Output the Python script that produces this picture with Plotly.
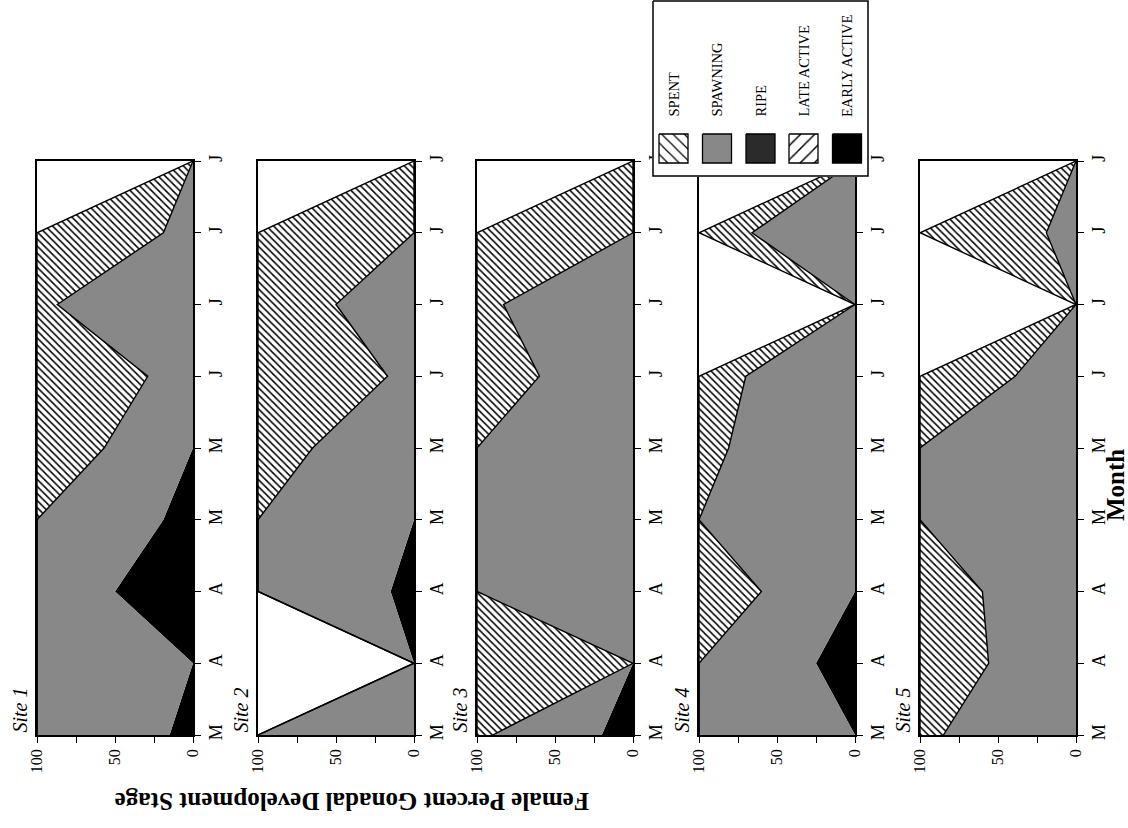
import plotly.graph_objects as go

# ---------------- data ----------------
months = ["M", "A", "A", "M", "M", "J", "J", "J", "J"]
month_idx = list(range(len(months)))
sites = ["Site 1", "Site 2", "Site 3", "Site 4", "Site 5"]
stages = ["SPENT", "SPAWNING", "RIPE", "LATE ACTIVE", "EARLY ACTIVE"]

site1_early = [15, 0, 50, 19, 0, 0, 0, 0, 0]
site1_late = [0, 0, 0, 0, 0, 0, 0, 0, 0]
site1_ripe = [0, 0, 0, 0, 0, 0, 0, 0, 0]
site1_spawning = [85, 100, 50, 81, 57, 29, 87, 19, 0]
site1_spent = [0, 0, 0, 0, 43, 71, 13, 81, 0]

site2_early = [0, 0, 15, 0, 0, 0, 0, 0, 0]
site2_late = [0, 0, 0, 0, 0, 0, 0, 0, 0]
site2_ripe = [0, 0, 0, 0, 0, 0, 0, 0, 0]
site2_spawning = [100, 0, 85, 100, 65, 17, 50, 0, 0]
site2_spent = [0, 0, 0, 0, 35, 83, 50, 100, 0]

site3_early = [20, 0, 0, 0, 0, 0, 0, 0, 0]
site3_late = [0, 0, 0, 0, 0, 0, 0, 0, 0]
site3_ripe = [0, 0, 0, 0, 0, 0, 0, 0, 0]
site3_spawning = [70, 0, 100, 100, 100, 60, 83, 0, 0]
site3_spent = [10, 100, 0, 0, 0, 40, 17, 100, 0]

site4_early = [0, 25, 0, 0, 0, 0, 0, 0, 0]
site4_late = [0, 0, 0, 0, 0, 0, 0, 0, 0]
site4_ripe = [0, 0, 0, 0, 0, 0, 0, 0, 0]
site4_spawning = [100, 75, 60, 100, 81, 70, 0, 66, 0]
site4_spent = [0, 0, 40, 0, 19, 30, 0, 34, 0]

site5_early = [0, 0, 0, 0, 0, 0, 0, 0, 0]
site5_late = [0, 0, 0, 0, 0, 0, 0, 0, 0]
site5_ripe = [0, 0, 0, 0, 0, 0, 0, 0, 0]
site5_spawning = [85, 56, 60, 100, 100, 39, 0, 19, 0]
site5_spent = [15, 44, 40, 0, 0, 61, 0, 81, 0]

site_data = [
    (site1_early, site1_late, site1_ripe, site1_spawning, site1_spent),
    (site2_early, site2_late, site2_ripe, site2_spawning, site2_spent),
    (site3_early, site3_late, site3_ripe, site3_spawning, site3_spent),
    (site4_early, site4_late, site4_ripe, site4_spawning, site4_spent),
    (site5_early, site5_late, site5_ripe, site5_spawning, site5_spent),
]

pct_tickvals = [0, 25, 50, 75, 100]
pct_ticktext = ["0", "", "50", "", "100"]

# ---------------- layout geometry (pixels) ----------------
W, H = 1128, 828
SERIF = "Liberation Serif, Times New Roman, serif"
panel_left = [37, 258, 477, 699, 920]
panel_w = 156
panel_top, panel_bottom = 161, 735


def px(xp):
    return xp / W


def py(yp):
    return 1 - yp / H


GRAY = "#888888"
RIPE_C = "#2b2b2b"
SPENT_PAT = dict(shape="\\", fgcolor="black", bgcolor="white", size=5, solidity=0.3)
LATE_PAT = dict(shape="/", fgcolor="black", bgcolor="white", size=7, solidity=0.25)

fig = go.Figure()
layout = dict(
    template="none",
    width=W, height=H,
    margin=dict(l=0, r=0, t=0, b=0, pad=0, autoexpand=False),
    paper_bgcolor="white", plot_bgcolor="white",
    showlegend=False,
    font=dict(family=SERIF, color="black", size=16),
    annotations=[],
)

for i, (early, late, ripe, spawn, spent) in enumerate(site_data):
    n = i + 1
    xa = "x" if n == 1 else f"x{n}"
    ya = "y" if n == 1 else f"y{n}"
    cum = [0] * len(months)
    fig.add_trace(go.Scatter(x=cum[:], y=month_idx, xaxis=xa, yaxis=ya, mode="lines",
                             line=dict(width=0), hoverinfo="skip"))
    layers = [
        (early, dict(fillcolor="black"), dict(width=0, color="black")),
        (late, dict(fillcolor="white", fillpattern=LATE_PAT), dict(width=0, color="black")),
        (ripe, dict(fillcolor=RIPE_C), dict(width=0, color=RIPE_C)),
        (spawn, dict(fillcolor=GRAY), dict(width=1.4, color="black")),
        (spent, dict(fillcolor="white", fillpattern=SPENT_PAT), dict(width=1.4, color="black")),
    ]
    for vals, fillkw, linekw in layers:
        cum = [c + v for c, v in zip(cum, vals)]
        fig.add_trace(go.Scatter(x=cum, y=month_idx, xaxis=xa, yaxis=ya, mode="lines",
                                 fill="tonextx", line=linekw, hoverinfo="skip", **fillkw))

    x0 = panel_left[i]
    layout["xaxis" if n == 1 else f"xaxis{n}"] = dict(
        domain=[px(x0), px(x0 + panel_w)], anchor=ya, range=[100, 0], automargin=False,
        tickvals=pct_tickvals, ticktext=pct_ticktext, tickangle=-90,
        ticks="outside", ticklen=6, tickwidth=1.2, tickcolor="black",
        showline=True, mirror=True, linecolor="black", linewidth=1.5,
        showgrid=False, zeroline=False, fixedrange=True,
        tickfont=dict(family=SERIF, size=16, color="black"),
    )
    layout["yaxis" if n == 1 else f"yaxis{n}"] = dict(
        domain=[py(panel_bottom), py(panel_top)], anchor=xa, side="right", automargin=False,
        range=[0, len(months) - 1], tickvals=month_idx, ticktext=months, tickangle=-90,
        ticks="outside", ticklen=6, tickwidth=1.2, tickcolor="black",
        showline=True, mirror=True, linecolor="black", linewidth=1.5,
        showgrid=False, zeroline=False, fixedrange=True,
        tickfont=dict(family=SERIF, size=18, color="black"),
    )
    layout["annotations"].append(dict(
        text=f"<i>{sites[i]}</i>", xref="paper", yref="paper",
        x=px(x0 - 18), y=py(panel_bottom), xanchor="center", yanchor="bottom",
        textangle=-90, showarrow=False, font=dict(family=SERIF, size=20, color="black"),
    ))

# ---------------- legend (drawn in its own subplot, rotated like the chart) ----------------
LX0, LX1, LY0, LY1 = 652, 869, 0, 177
layout["xaxis6"] = dict(domain=[px(LX0), px(LX1)], anchor="y6", range=[LX0, LX1],
                        visible=False, fixedrange=True, automargin=False)
layout["yaxis6"] = dict(domain=[py(LY1), py(LY0)], anchor="x6", range=[LY1, LY0],
                        visible=False, fixedrange=True, automargin=False)
fig.add_trace(go.Scatter(x=[LX0 + 1, LX1 - 1, LX1 - 1, LX0 + 1, LX0 + 1],
                         y=[LY0 + 1, LY0 + 1, LY1 - 1, LY1 - 1, LY0 + 1],
                         xaxis="x6", yaxis="y6", mode="lines", fill="toself",
                         fillcolor="white", line=dict(color="black", width=1.5), hoverinfo="skip"))
sw_centers = [673.5, 717, 760.5, 803.5, 847]
sw_half = 14.5
sw_y0, sw_y1 = 134, 163
sw_fill = [
    dict(fillcolor="white", fillpattern=dict(shape="\\", fgcolor="black", bgcolor="white", size=8, solidity=0.15)),
    dict(fillcolor=GRAY),
    dict(fillcolor=RIPE_C),
    dict(fillcolor="white", fillpattern=dict(shape="/", fgcolor="black", bgcolor="white", size=10, solidity=0.15)),
    dict(fillcolor="black"),
]
for cx, lab, fk in zip(sw_centers, stages, sw_fill):
    fig.add_trace(go.Scatter(x=[cx - sw_half, cx + sw_half, cx + sw_half, cx - sw_half, cx - sw_half],
                             y=[sw_y0, sw_y0, sw_y1, sw_y1, sw_y0], xaxis="x6", yaxis="y6",
                             mode="lines", fill="toself", line=dict(color="black", width=1.3),
                             hoverinfo="skip", **fk))
    layout["annotations"].append(dict(
        text=lab, xref="paper", yref="paper", x=px(cx), y=py(119),
        xanchor="center", yanchor="bottom", textangle=-90, showarrow=False,
        font=dict(family=SERIF, size=14.5, color="black"),
    ))

# ---------------- axis titles ----------------
layout["annotations"].append(dict(
    text="<b>Month</b>", xref="paper", yref="paper", x=px(1115), y=py(485),
    xanchor="center", yanchor="middle", textangle=-90, showarrow=False,
    font=dict(family=SERIF, size=25, color="black"),
))
layout["annotations"].append(dict(
    text="<b>Female Percent Gonadal Development Stage</b>", xref="paper", yref="paper",
    x=px(352), y=py(802), xanchor="center", yanchor="middle", textangle=180,
    showarrow=False, font=dict(family=SERIF, size=25, color="black"),
))

fig.update_layout(**layout)
fig.write_html(
    "out.html",
    config={"displayModeBar": False},
    post_script="document.body.style.margin='0px';document.body.style.padding='0px';"
                "document.body.style.overflow='hidden';",
)
